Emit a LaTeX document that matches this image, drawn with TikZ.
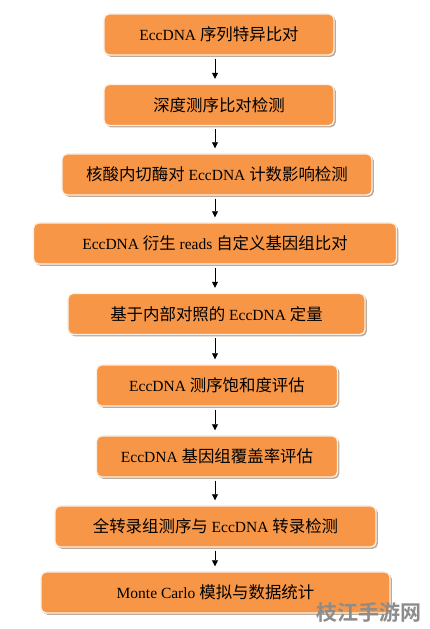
\documentclass[tikz,border=0pt]{standalone}
\usepackage{fontspec}
\setmainfont{Liberation Serif}
\newfontfamily\cjk{Noto Sans CJK SC}[Scale=1.06]
\newfontfamily\cjkbold{Noto Sans CJK SC Bold}
\usetikzlibrary{shadows,arrows.meta,calc}
\definecolor{boxfill}{RGB}{247,150,70}
\definecolor{boxedge}{RGB}{252,240,228}
\definecolor{wmgray}{RGB}{140,140,140}
\tikzset{
  stepbox/.style={draw=boxedge, line width=1.4pt, fill=boxfill, rounded corners=5pt,
    minimum height=41pt, inner sep=0pt, font=\fontsize{15.5pt}{17pt}\selectfont,
    drop shadow={shadow xshift=1.8pt, shadow yshift=-1.8pt, fill=black!45!brown, opacity=0.45}},
  flow/.style={-{Triangle[length=6pt,width=6pt]}, line width=0.8pt, black}
}
\newcommand{\zh}[1]{{\cjk #1}}
\begin{document}
\begin{tikzpicture}[x=1pt,y=1pt]
\useasboundingbox (0,0) rectangle (430,629);
\fill[white] (0,0) rectangle (430,629);
\node[stepbox, minimum width=230pt] (b1) at (219,594.5) {EccDNA \zh{序列特异比对}};
\node[stepbox, minimum width=230pt] (b2) at (219,524) {\zh{深度测序比对检测}};
\node[stepbox, minimum width=310pt] (b3) at (217,454.5) {\zh{核酸内切酶对} EccDNA \zh{计数影响检测}};
\node[stepbox, minimum width=363pt] (b4) at (215,385.5) {EccDNA \zh{衍生} reads \zh{自定义基因组比对}};
\node[stepbox, minimum width=297pt] (b5) at (216.5,315) {\zh{基于内部对照的} EccDNA \zh{定量}};
\node[stepbox, minimum width=241pt] (b6) at (217,243.5) {EccDNA \zh{测序饱和度评估}};
\node[stepbox, minimum width=241pt] (b7) at (217,172.5) {EccDNA \zh{基因组覆盖率评估}};
\node[stepbox, minimum width=321pt] (b8) at (215.5,102.5) {\zh{全转录组测序与} EccDNA \zh{转录检测}};
\node[stepbox, minimum width=349pt] (b9) at (215.5,36.5) {Monte Carlo \zh{模拟与数据统计}};
\foreach \a/\b in {b1/b2,b2/b3,b3/b4,b4/b5,b5/b6,b6/b7,b7/b8,b8/b9}
  \draw[flow] (\a.south -| 215,0) ++(0,-3) coordinate (s\a) -- ($(s\a |- \b.north)+(0,5)$);
\node[font=\cjkbold\fontsize{21pt}{23pt}\selectfont, text=wmgray, anchor=east] (wm) at (425,17) {枝江手游网};
\end{tikzpicture}
\end{document}
